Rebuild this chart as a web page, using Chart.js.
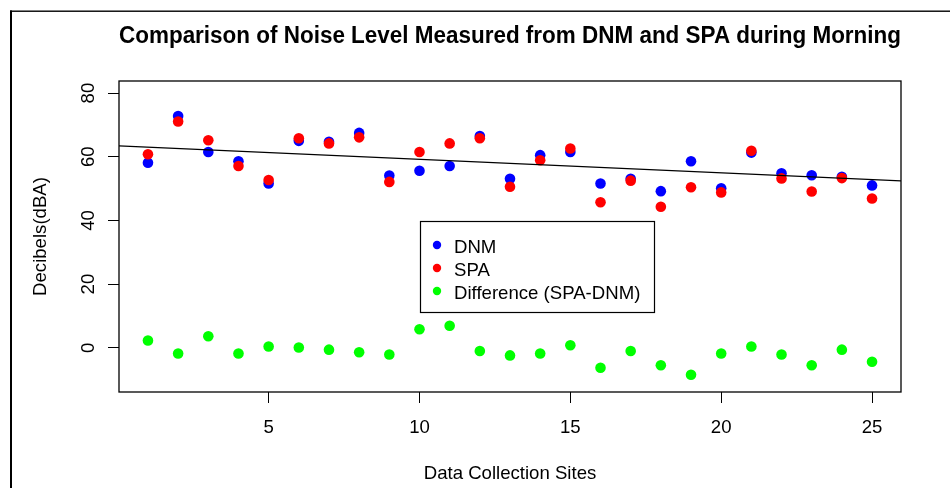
<!DOCTYPE html>
<html><head><meta charset="utf-8">
<script src="https://cdn.jsdelivr.net/npm/chart.js@4.4.1/dist/chart.umd.min.js"></script>
<style>html,body{margin:0;padding:0;background:#fff;} canvas{display:block;}</style>
</head><body>
<canvas id="c" width="950" height="488"></canvas>
<script>
// ---- data ----
const sites = [1,2,3,4,5,6,7,8,9,10,11,12,13,14,15,16,17,18,19,20,21,22,23,24,25];
const dnm  = [58.1,72.8,61.5,58.6,51.6,65.0,64.7,67.5,54.1,55.6,57.1,66.5,53.1,60.5,61.5,51.6,53.1,49.2,58.6,50.1,61.3,54.8,54.2,53.7,51.0];
const spa  = [60.8,71.1,65.2,57.1,52.7,65.8,64.2,66.1,52.1,61.5,64.2,65.8,50.6,58.9,62.6,45.7,52.5,44.3,50.4,48.8,61.9,53.2,49.1,53.3,46.9];
const diff = [2.3,-1.8,3.6,-1.8,0.4,0.1,-0.6,-1.4,-2.1,5.8,6.9,-1.0,-2.4,-1.8,0.8,-6.3,-1.0,-5.5,-8.5,-1.8,0.4,-2.1,-5.5,-0.6,-4.4];
const xTicks = [5,10,15,20,25];
const yTicks = [0,20,40,60,80];
const trendIntercept = 63.42;
const trendSlope = -0.424;
const seriesLabels = ['DNM','SPA','Difference (SPA-DNM)'];
const chartTitle = 'Comparison of Noise Level Measured from DNM and SPA during Morning';
const xTitle = 'Data Collection Sites';
const yTitle = 'Decibels(dBA)';

// ---- axis ranges ----
const X_MIN = 0.04, X_MAX = 25.96, Y_MIN = -13.9, Y_MAX = 83.8;
const FONT = '"Liberation Sans", Arial, sans-serif';
const FS = 18.6;
const TFS = 23;

const pts = (ys) => sites.map((s, i) => ({x: s, y: ys[i]}));
const trendAt = (x) => trendIntercept + trendSlope * x;

const decor = {
  id: 'decor',
  beforeDraw(chart) {
    const ctx = chart.ctx;
    ctx.save();
    ctx.fillStyle = '#fff';
    ctx.fillRect(0, 0, chart.width, chart.height);
    ctx.restore();
  },
  afterDraw(chart) {
    const {ctx, chartArea: a, scales} = chart;
    ctx.save();
    // outer frame
    ctx.fillStyle = '#000';
    ctx.fillRect(10, 10.5, 2, chart.height);
    ctx.fillRect(10, 10.5, chart.width, 1.4);
    // plot box
    ctx.strokeStyle = '#000';
    ctx.lineWidth = 1.3;
    ctx.strokeRect(a.left, a.top, a.right - a.left, a.bottom - a.top);
    // rotated y tick labels
    ctx.font = FS + 'px ' + FONT;
    ctx.fillStyle = '#000';
    ctx.textAlign = 'center';
    ctx.textBaseline = 'alphabetic';
    scales.y.ticks.forEach(t => {
      const py = scales.y.getPixelForValue(t.value);
      ctx.save();
      ctx.translate(a.left - 25, py);
      ctx.rotate(-Math.PI / 2);
      ctx.fillText(String(t.label), 0, 0);
      ctx.restore();
    });
    // legend
    const lx = 420.5, ly = 221.5, lw = 234, lh = 91;
    ctx.fillStyle = '#fff';
    ctx.fillRect(lx, ly, lw, lh);
    ctx.strokeStyle = '#000';
    ctx.lineWidth = 1.2;
    ctx.strokeRect(lx, ly, lw, lh);
    const rows = [245, 268, 291];
    const dsIdx = [0, 1, 2];
    dsIdx.forEach((di, k) => {
      const ds = chart.data.datasets[di];
      ctx.fillStyle = ds.backgroundColor;
      ctx.beginPath();
      ctx.arc(437, rows[k], 4.2, 0, Math.PI * 2);
      ctx.fill();
      ctx.fillStyle = '#000';
      ctx.textAlign = 'left';
      ctx.textBaseline = 'alphabetic';
      ctx.fillText(ds.label, 454, rows[k] + 7.8);
    });
    ctx.restore();
  }
};

new Chart(document.getElementById('c'), {
  type: 'scatter',
  data: {
    datasets: [
      {label: seriesLabels[0], data: pts(dnm), backgroundColor: '#0000ff', pointRadius: 5.3, pointBorderWidth: 0, order: 4},
      {label: seriesLabels[1], data: pts(spa), backgroundColor: '#ff0000', pointRadius: 5.3, pointBorderWidth: 0, order: 3},
      {label: seriesLabels[2], data: pts(diff), backgroundColor: '#00ff00', pointRadius: 5.3, pointBorderWidth: 0, order: 2},
      {type: 'line', label: 'trend', data: [{x: X_MIN, y: trendAt(X_MIN)}, {x: X_MAX, y: trendAt(X_MAX)}],
       borderColor: '#000', borderWidth: 1.2, pointRadius: 0, fill: false, order: 1}
    ]
  },
  options: {
    responsive: false,
    animation: false,
    devicePixelRatio: 1,
    events: [],
    layout: {padding: {left: 0, right: 49, top: 0, bottom: 0}},
    plugins: {
      legend: {display: false},
      tooltip: {enabled: false},
      title: {
        display: true, text: chartTitle, color: '#000', fullSize: false,
        font: {family: FONT, size: TFS, weight: 'bold', lineHeight: 1.2},
        padding: {top: 22.5, bottom: 81 - 22.5 - TFS * 1.2}
      }
    },
    scales: {
      x: {
        type: 'linear', min: X_MIN, max: X_MAX,
        afterBuildTicks: s => { s.ticks = xTicks.map(v => ({value: v})); },
        afterFit: s => { s.height = 96; },
        ticks: {autoSkip: false, color: '#000', font: {family: FONT, size: FS}, padding: 13.5, maxRotation: 0},
        grid: {display: true, drawOnChartArea: false, drawTicks: true, tickLength: 11, color: '#000', tickWidth: 1},
        border: {display: false},
        title: {display: true, text: xTitle, color: '#000', font: {family: FONT, size: FS, lineHeight: 1.2}, padding: {top: 0, bottom: 3.2}}
      },
      y: {
        type: 'linear', min: Y_MIN, max: Y_MAX,
        afterBuildTicks: s => { s.ticks = yTicks.map(v => ({value: v})); },
        afterFit: s => { s.width = 119; },
        ticks: {display: false, autoSkip: false, font: {family: FONT, size: FS}},
        grid: {display: true, drawOnChartArea: false, drawTicks: true, tickLength: 11, color: '#000', tickWidth: 1},
        border: {display: false},
        title: {display: true, text: yTitle, color: '#000', font: {family: FONT, size: FS, lineHeight: 1.2}, padding: {top: 29.8, bottom: 0}}
      }
    }
  },
  plugins: [decor]
});
</script>
</body></html>
